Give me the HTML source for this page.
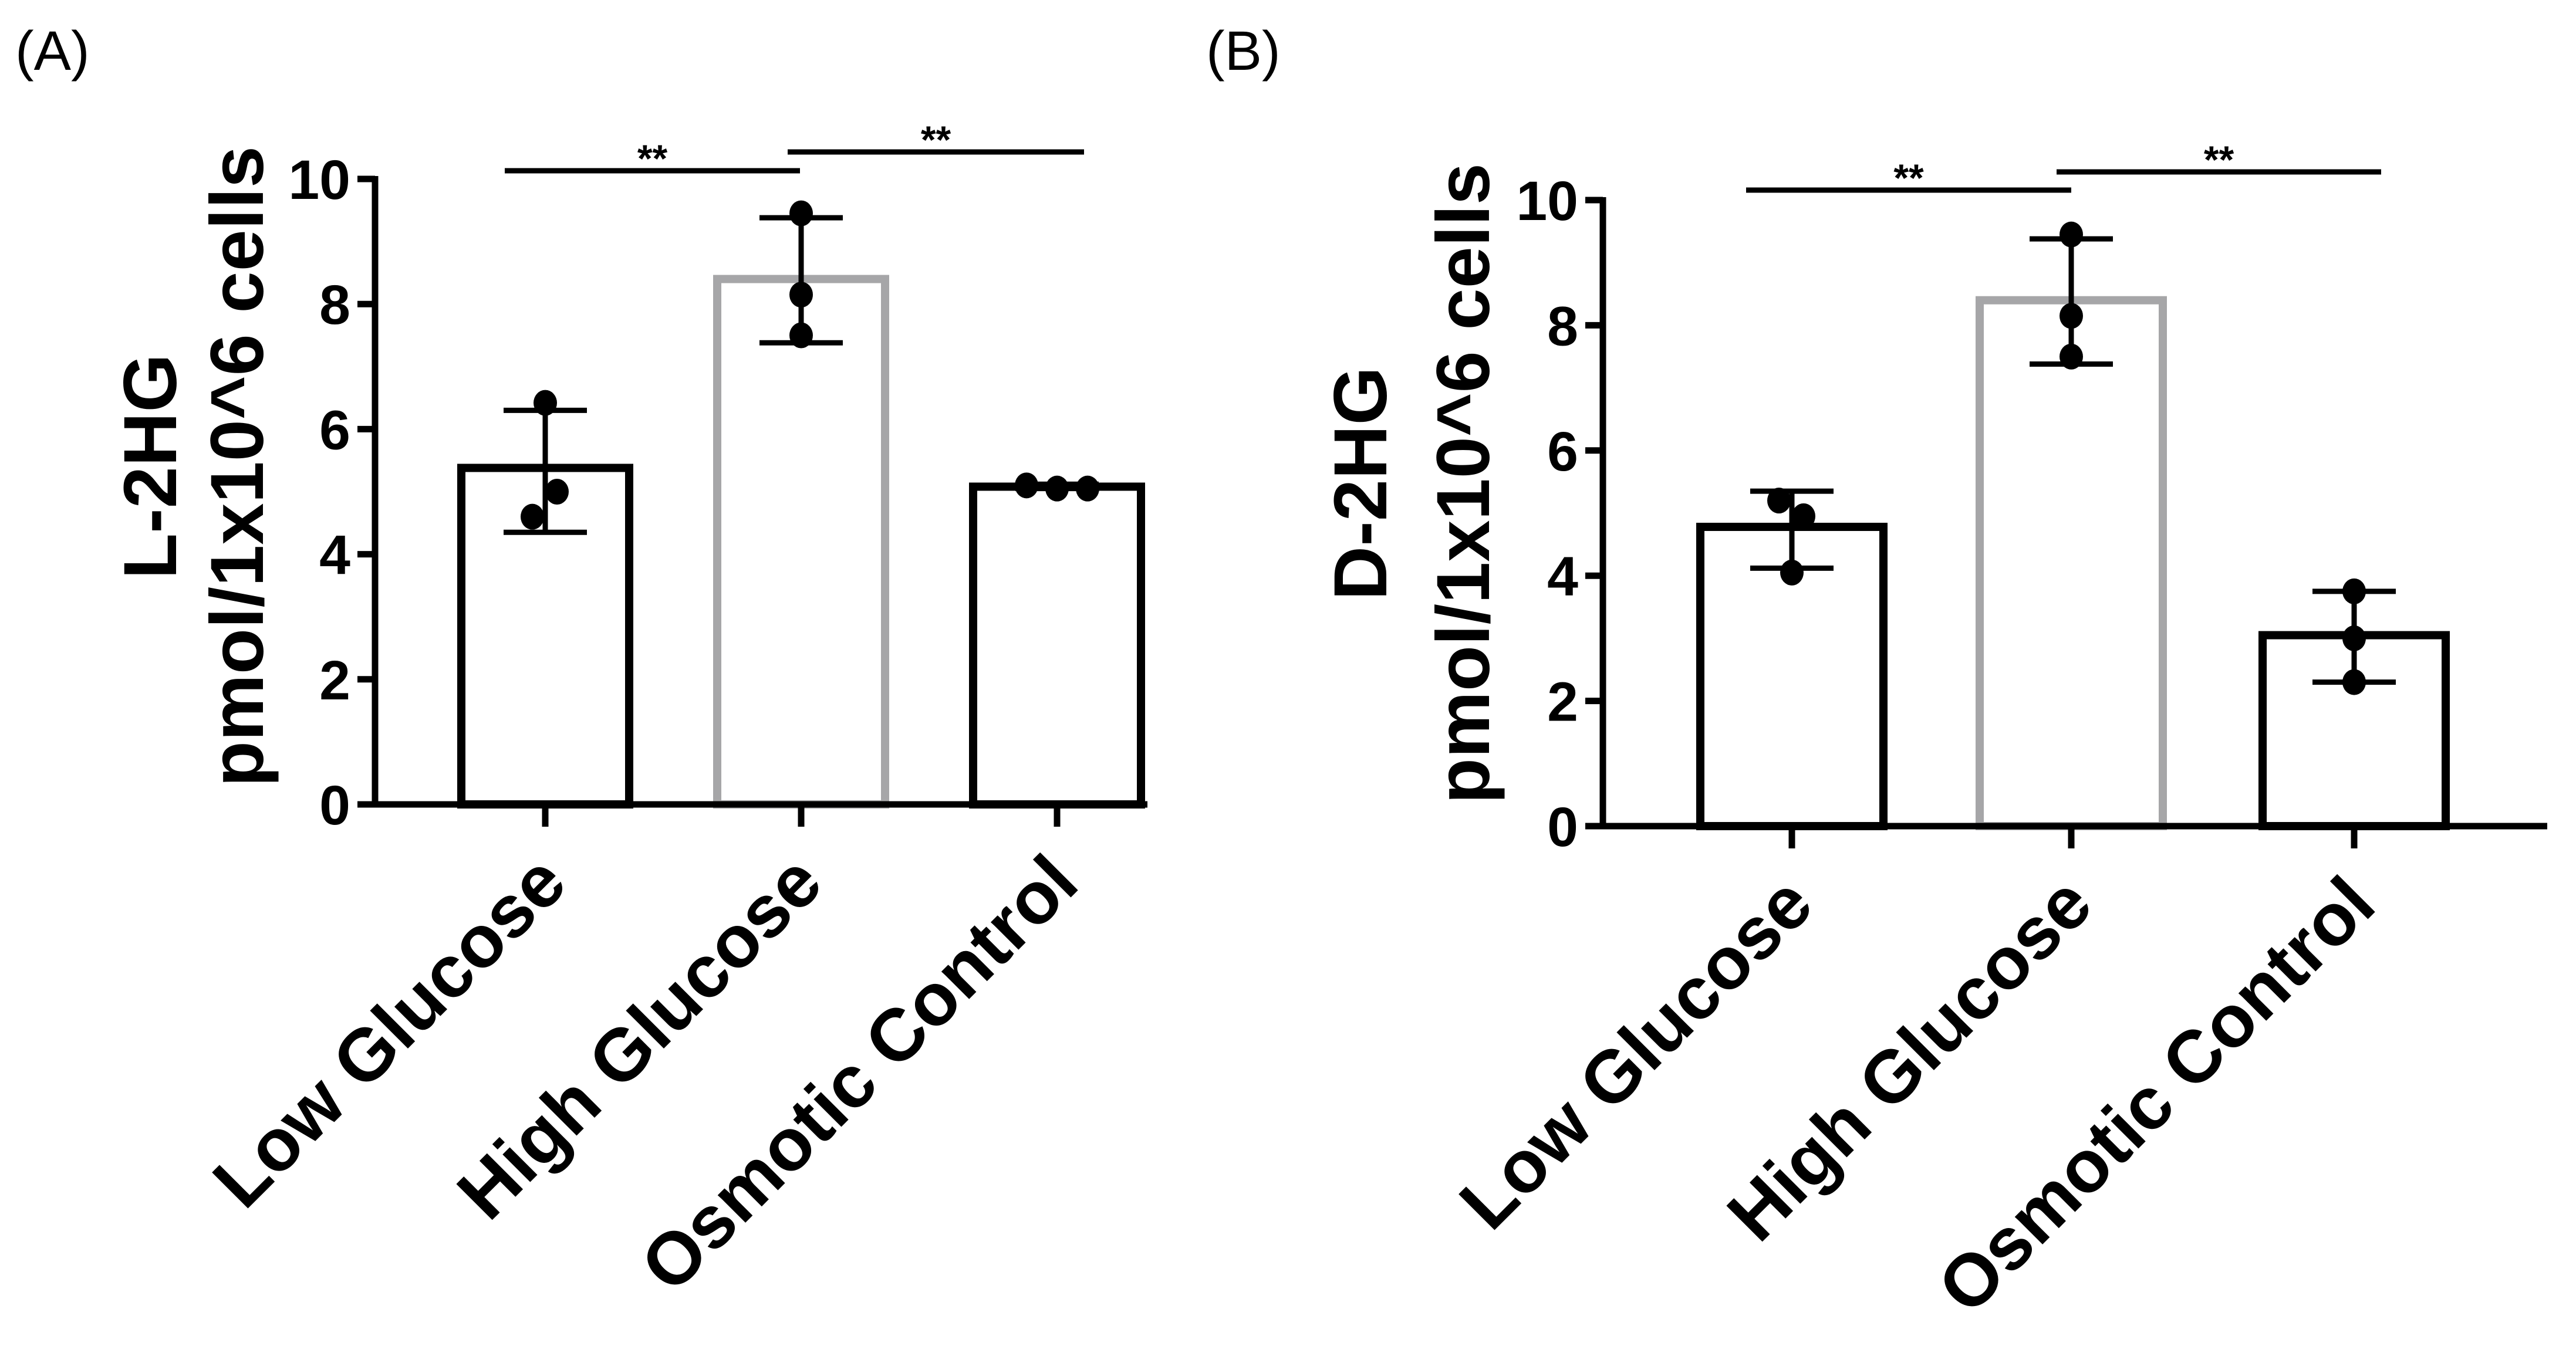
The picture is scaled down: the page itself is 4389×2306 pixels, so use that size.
<!DOCTYPE html>
<html><head><meta charset="utf-8"><style>
html,body{margin:0;padding:0;background:#fff;}
svg{display:block;font-family:"Liberation Sans",Arial,sans-serif;}
</style></head><body>
<svg id="fig" width="4389" height="2306" viewBox="0 0 4389 2306" xmlns="http://www.w3.org/2000/svg">
<rect width="4389" height="2306" fill="#fff"/>
<text x="26" y="119" font-size="95">(A)</text>
<text x="2055" y="119" font-size="95">(B)</text>
</svg>
<script>
const categories = ["Low Glucose", "High Glucose", "Osmotic Control"];
const yTicks = [0, 2, 4, 6, 8, 10];
const aMeans = [5.38, 8.4, 5.08];
const aErrLow = [4.35, 7.38, 5.05];
const aErrHigh = [6.3, 9.38, 5.12];
const aPoints = [[6.42, 5.0, 4.6], [9.45, 8.15, 7.5], [5.1, 5.05, 5.05]];
const bMeans = [4.78, 8.4, 3.05];
const bErrLow = [4.12, 7.38, 2.3];
const bErrHigh = [5.35, 9.38, 3.75];
const bPoints = [[5.2, 4.95, 4.05], [9.45, 8.15, 7.5], [3.75, 3.0, 2.3]];
const sigLabels = ["**", "**"];

const NS = "http://www.w3.org/2000/svg";
const svg = document.getElementById("fig");
function mk(tag, attrs, parent) {
  const e = document.createElementNS(NS, tag);
  for (const k in attrs) e.setAttribute(k, attrs[k]);
  (parent || svg).appendChild(e);
  return e;
}

function panel(cfg) {
  const g = mk("g", {});
  
  
  const y = v => cfg.y0 - (v / 10) * (cfg.y0 - cfg.y10);
  const xc = i => cfg.cx[i];
  const bw = cfg.bw;
  cfg.means.forEach((m, i) => {
    const r = mk("rect", {x: xc(i) - bw / 2, y: y(m), width: bw, height: cfg.y0 - y(m), fill: "none",
      stroke: i === 1 ? "#a6a6a8" : "#000", "stroke-width": 14}, g);
    
    
  });
  cfg.means.forEach((m, i) => {
    const eg = mk("g", {stroke: "#000", "stroke-width": 9}, g);
    
    
    mk("line", {x1: xc(i), x2: xc(i), y1: y(cfg.lo[i]), y2: y(cfg.hi[i])}, eg);
    mk("line", {x1: xc(i) - 71, x2: xc(i) + 71, y1: y(cfg.lo[i]), y2: y(cfg.lo[i])}, eg);
    mk("line", {x1: xc(i) - 71, x2: xc(i) + 71, y1: y(cfg.hi[i]), y2: y(cfg.hi[i])}, eg);
  });
  cfg.pts.forEach((arr, i) => {
    arr.forEach((v, j) => {
      let dx = cfg.jit[i][j];
      const c = mk("ellipse", {cx: xc(i) + dx, cy: y(v), rx: 20, ry: 22, fill: "#000"}, g);
      
      
    });
  });
  const ax = mk("g", {stroke: "#000", "stroke-width": 11}, g);
  
  
  mk("line", {x1: cfg.ax, x2: cfg.ax, y1: y(10) - 5, y2: cfg.y0 + 5}, ax);
  mk("line", {x1: cfg.ax - 5, x2: cfg.xEnd, y1: cfg.y0, y2: cfg.y0}, ax);
  yTicks.forEach(t => {
    mk("line", {x1: cfg.ax - 30, x2: cfg.ax, y1: y(t), y2: y(t)}, ax);
    const tx = mk("text", {x: cfg.ax - 42, y: y(t) + 34, "font-size": 95, "font-weight": "bold", "text-anchor": "end"}, g);
    tx.textContent = t;
    
    
  });
  categories.forEach((c, i) => {
    mk("line", {x1: xc(i), x2: xc(i), y1: cfg.y0, y2: cfg.y0 + 38}, ax);
    const tx = mk("text", {x: 0, y: 0, "font-size": 126, "font-weight": "bold", "text-anchor": "end",
      transform: "translate(" + (xc(i) + 42) + "," + (cfg.y0 + 140) + ") rotate(-45)"}, g);
    tx.textContent = c;
    
    
  });
  const t1 = mk("text", {x: 0, y: 0, "font-size": 128, "font-weight": "bold", "text-anchor": "middle",
    transform: "translate(" + cfg.t1x + "," + cfg.tcy + ") rotate(-90)"}, g);
  t1.textContent = cfg.title1;
  
  
  const t2 = mk("text", {x: 0, y: 0, "font-size": 128, "font-weight": "bold", "text-anchor": "middle",
    transform: "translate(" + cfg.t2x + "," + cfg.tcy + ") rotate(-90)"}, g);
  t2.textContent = "pmol/1x10^6 cells";
  
  
  cfg.sig.forEach((s, k) => {
    const sg = mk("g", {}, g);
    
    
    mk("line", {x1: s[0], x2: s[1], y1: s[2], y2: s[2], stroke: "#000", "stroke-width": 9}, sg);
    const st = mk("text", {x: (s[0] + s[1]) / 2, y: s[2] + 2, "font-size": 66, "font-weight": "bold", "text-anchor": "middle"}, sg);
    st.textContent = sigLabels[k];
  });
}

panel({id: "panel-a", ax: 639, y0: 1371, y10: 305, xEnd: 1955, cx: [929, 1365, 1801], bw: 286,
  means: aMeans, lo: aErrLow, hi: aErrHigh, pts: aPoints,
  jit: [[0, 20, -22], [0, 0, 0], [-52, 0, 52]],
  title1: "L-2HG", t1x: 300, t2x: 448, tcy: 795,
  sig: [[860, 1363, 291], [1342, 1847, 259]]});
panel({id: "panel-b", ax: 2731, y0: 1408, y10: 341, xEnd: 4340, cx: [3053, 3529, 4011], bw: 312,
  means: bMeans, lo: bErrLow, hi: bErrHigh, pts: bPoints,
  jit: [[-22, 20, 0], [0, 0, 0], [0, 0, 0]],
  title1: "D-2HG", t1x: 2362, t2x: 2537, tcy: 824,
  sig: [[2975, 3529, 324], [3504, 4057, 293]]});
</script>
</body></html>
